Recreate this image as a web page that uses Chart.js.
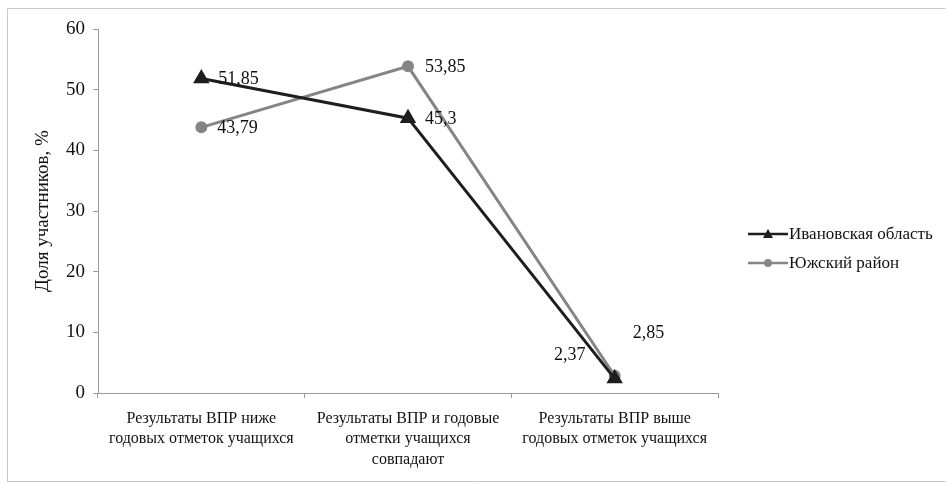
<!DOCTYPE html>
<html>
<head>
<meta charset="utf-8">
<script src="https://cdn.jsdelivr.net/npm/chart.js@4/dist/chart.umd.min.js"></script>
<style>
  html, body { margin: 0; padding: 0; background: #fff; }
  #wrap { width: 947px; height: 483px; }
</style>
</head>
<body>
<div id="wrap"><canvas id="lineChart" width="947" height="483"></canvas></div>
<script>
// categories (multi-line labels) and series values
const categories = [
    ['Результаты ВПР ниже', 'годовых отметок учащихся'],
    ['Результаты ВПР и годовые', 'отметки учащихся', 'совпадают'],
    ['Результаты ВПР выше', 'годовых отметок учащихся']
];
const seriesNames = ['Ивановская область', 'Южский район'];
const ivanovoValues = [51.85, 45.3, 2.37];
const yuzhaValues = [43.79, 53.85, 2.85];
const yTicks = [0, 10, 20, 30, 40, 50, 60];

const darkColour = '#1e1e1e';
const greyColour = '#858585';
const serif = "'Liberation Serif', 'DejaVu Serif', serif";

// where each value label sits relative to its point: [dx, dy, align]
const labelPlacement = [
    [[17, 1, 'left'], [17, 1, 'left'], [-45, -23, 'center']],
    [[16, 1, 'left'], [17, 1, 'left'], [18, -42, 'left']]
];

// light frame round the whole picture, like the scanned original
const framePlugin = {
    id: 'frame',
    beforeDraw: (chart) => {
        const ctx = chart.ctx;
        ctx.save();
        ctx.fillStyle = '#fff';
        ctx.fillRect(0, 0, chart.width, chart.height);
        ctx.strokeStyle = '#c8c8c8';
        ctx.lineWidth = 1;
        ctx.beginPath();
        ctx.moveTo(945.5, 8.5);
        ctx.lineTo(7.5, 8.5);
        ctx.lineTo(7.5, 481.5);
        ctx.lineTo(945.5, 481.5);
        ctx.stroke();
        ctx.restore();
    }
};

// value labels next to points (decimal comma)
const valueLabelPlugin = {
    id: 'valueLabels',
    afterDatasetsDraw: (chart) => {
        const ctx = chart.ctx;
        ctx.save();
        ctx.font = '18px ' + serif;
        ctx.fillStyle = '#111';
        ctx.textBaseline = 'middle';
        chart.data.datasets.forEach((ds, di) => {
            const meta = chart.getDatasetMeta(di);
            meta.data.forEach((pt, i) => {
                const p = labelPlacement[di][i];
                ctx.textAlign = p[2];
                const txt = String(ds.data[i]).replace('.', ',');
                ctx.fillText(txt, pt.x + p[0], pt.y + p[1]);
            });
        });
        ctx.restore();
    }
};

// legend on the right, drawn by hand to match the original
const legendPlugin = {
    id: 'sideLegend',
    afterDraw: (chart) => {
        const ctx = chart.ctx;
        ctx.save();
        const x0 = 748;
        const rows = [234, 263];
        chart.data.datasets.forEach((ds, di) => {
            const y = rows[di];
            ctx.strokeStyle = ds.borderColor;
            ctx.lineWidth = 2.5;
            ctx.beginPath();
            ctx.moveTo(x0, y);
            ctx.lineTo(x0 + 40, y);
            ctx.stroke();
            ctx.fillStyle = ds.borderColor;
            const cx = x0 + 20;
            if (ds.pointStyle === 'triangle') {
                ctx.beginPath();
                ctx.moveTo(cx, y - 5);
                ctx.lineTo(cx + 5, y + 4);
                ctx.lineTo(cx - 5, y + 4);
                ctx.closePath();
                ctx.fill();
            } else {
                ctx.beginPath();
                ctx.arc(cx, y, 4, 0, Math.PI * 2);
                ctx.fill();
            }
            ctx.fillStyle = '#111';
            ctx.font = '17px ' + serif;
            ctx.textAlign = 'left';
            ctx.textBaseline = 'middle';
            ctx.fillText(ds.label, x0 + 41, y + 1);
        });
        ctx.restore();
    }
};

const ctx = document.getElementById('lineChart').getContext('2d');
const chart = new Chart(ctx, {
    type: 'line',
    data: {
        labels: categories,
        datasets: [{
            label: seriesNames[0],
            data: ivanovoValues,
            borderColor: darkColour,
            backgroundColor: darkColour,
            borderWidth: 3,
            pointStyle: 'triangle',
            pointRadius: 6.5,
            tension: 0
        }, {
            label: seriesNames[1],
            data: yuzhaValues,
            borderColor: greyColour,
            backgroundColor: greyColour,
            borderWidth: 3,
            pointStyle: 'circle',
            pointRadius: 4.5,
            tension: 0
        }]
    },
    options: {
        responsive: false,
        animation: false,
        layout: {
            padding: { left: 30, right: 229, top: 29, bottom: 0 }
        },
        scales: {
            x: {
                offset: true,
                grid: {
                    offset: true,
                    drawOnChartArea: false,
                    tickLength: 5,
                    color: '#9a9a9a'
                },
                border: { color: '#9a9a9a' },
                ticks: {
                    maxRotation: 0,
                    autoSkip: false,
                    color: '#111',
                    padding: 10,
                    font: { family: serif, size: 16, lineHeight: 1.3 }
                },
                afterFit: (scale) => { scale.height = 90; }
            },
            y: {
                min: 0,
                max: 60,
                afterBuildTicks: (scale) => {
                    scale.ticks = yTicks.map(v => ({ value: v }));
                },
                grid: {
                    drawOnChartArea: false,
                    tickLength: 5,
                    color: '#9a9a9a'
                },
                border: { color: '#9a9a9a' },
                ticks: {
                    color: '#111',
                    padding: 8,
                    font: { family: serif, size: 19 }
                },
                title: {
                    display: true,
                    text: 'Доля участников, %',
                    color: '#111',
                    padding: { top: 2, bottom: 0 },
                    font: { family: serif, size: 19 }
                },
                afterFit: (scale) => { scale.width = 68; }
            }
        },
        plugins: {
            legend: { display: false },
            tooltip: { enabled: false }
        }
    },
    plugins: [framePlugin, valueLabelPlugin, legendPlugin]
});
</script>
</body>
</html>
